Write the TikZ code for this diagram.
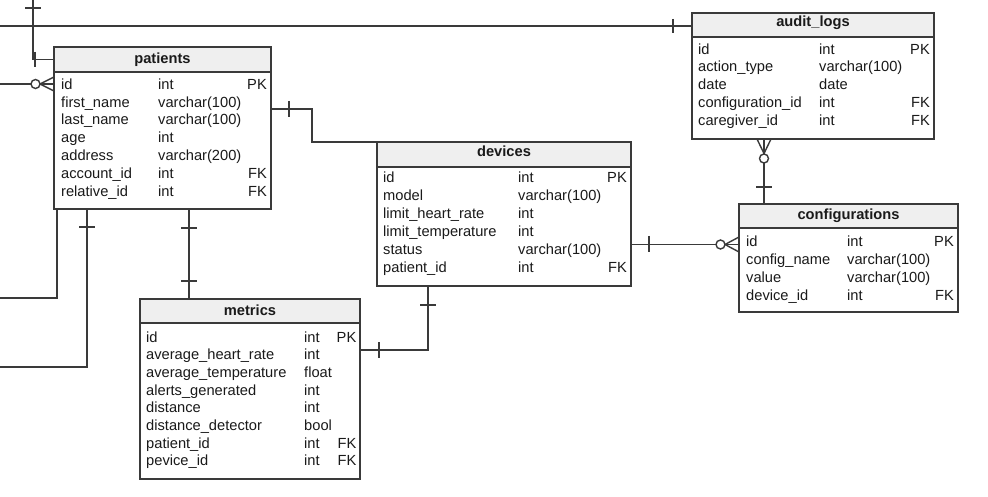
\documentclass[tikz,border=0pt]{standalone}
\usepackage{fontspec}
\setmainfont{Liberation Sans}
\usetikzlibrary{calc}
\definecolor{bordercol}{HTML}{3A3A3A}
\definecolor{linecol}{HTML}{3A3A3A}
\definecolor{hdrfill}{HTML}{EFEFEF}
\definecolor{txtcol}{HTML}{1A1A1A}
\begin{document}
\begin{tikzpicture}[x=1pt,y=-1pt,
  tbl/.style={draw=bordercol, line width=1.4pt, fill=white, anchor=north west, inner sep=0pt, outer sep=0pt},
  hdr/.style={draw=bordercol, line width=1.4pt, fill=hdrfill, anchor=north west, inner sep=0pt, outer sep=0pt},
  txt/.style={anchor=base west, inner sep=0pt, text=txtcol, font=\fontsize{14.67}{17}\selectfont},
  keytxt/.style={anchor=base east, inner sep=0pt, text=txtcol, font=\fontsize{14.67}{17}\selectfont},
  ttl/.style={anchor=base, inner sep=0pt, text=txtcol, font=\fontsize{14.67}{17}\selectfont\bfseries},
  rel/.style={draw=linecol, line width=1.4pt},
  bar/.style={draw=linecol, line width=1.4pt},
]
\useasboundingbox (0,0) rectangle (988,497);
\fill[white] (0,0) rectangle (988,497);

% ---------- patients ----------
\node[tbl, minimum width=217pt, minimum height=162pt] (patients) at (54,47) {};
\node[hdr, minimum width=217pt, minimum height=25pt] (patientsH) at (54,47) {};
\node[ttl] (patientsT) at (162.5,63.3) {patients};
\foreach \n/\t/\k [count=\i from 0] in {id/int/PK, first\_name/varchar(100)/, last\_name/varchar(100)/, age/int/, address/varchar(200)/, account\_id/int/FK, relative\_id/int/FK}{
  \node[txt] (patients-n\i) at (61,89.3+17.8*\i) {\n};
  \node[txt] (patients-t\i) at (158,89.3+17.8*\i) {\t};
  \node[keytxt] (patients-k\i) at (267,89.3+17.8*\i) {\k};
}

% ---------- devices ----------
\node[tbl, minimum width=254pt, minimum height=144pt] (devices) at (377,142) {};
\node[hdr, minimum width=254pt, minimum height=25pt] (devicesH) at (377,142) {};
\node[ttl] (devicesT) at (504,156.7) {devices};
\foreach \n/\t/\k [count=\i from 0] in {id/int/PK, model/varchar(100)/, limit\_heart\_rate/int/, limit\_temperature/int/, status/varchar(100)/, patient\_id/int/FK}{
  \node[txt] (devices-n\i) at (383,182.7+18*\i) {\n};
  \node[txt] (devices-t\i) at (518,182.7+18*\i) {\t};
  \node[keytxt] (devices-k\i) at (627,182.7+18*\i) {\k};
}

% ---------- metrics ----------
\node[tbl, minimum width=220pt, minimum height=180pt] (metrics) at (140,299) {};
\node[hdr, minimum width=220pt, minimum height=24pt] (metricsH) at (140,299) {};
\node[ttl] (metricsT) at (250,315) {metrics};
\foreach \n/\t/\k [count=\i from 0] in {id/int/PK, average\_heart\_rate/int/, average\_temperature/float/, alerts\_generated/int/, distance/int/, distance\_detector/bool/, patient\_id/int/FK, pevice\_id/int/FK}{
  \node[txt] (metrics-n\i) at (146,342.3+17.63*\i) {\n};
  \node[txt] (metrics-t\i) at (304,342.3+17.63*\i) {\t};
  \node[keytxt] (metrics-k\i) at (356.5,342.3+17.63*\i) {\k};
}

% ---------- audit_logs ----------
\node[tbl, minimum width=242pt, minimum height=126pt] (audit) at (692,13) {};
\node[hdr, minimum width=242pt, minimum height=24pt] (auditH) at (692,13) {};
\node[ttl] (auditT) at (813,26.7) {audit\_logs};
\foreach \n/\t/\k [count=\i from 0] in {id/int/PK, action\_type/varchar(100)/, date/date/, configuration\_id/int/FK, caregiver\_id/int/FK}{
  \node[txt] (audit-n\i) at (698,54.3+17.7*\i) {\n};
  \node[txt] (audit-t\i) at (819,54.3+17.7*\i) {\t};
  \node[keytxt] (audit-k\i) at (930,54.3+17.7*\i) {\k};
}

% ---------- configurations ----------
\node[tbl, minimum width=219pt, minimum height=108pt] (config) at (739,204) {};
\node[hdr, minimum width=219pt, minimum height=24pt] (configH) at (739,204) {};
\node[ttl] (configT) at (848.5,220) {configurations};
\foreach \n/\t/\k [count=\i from 0] in {id/int/PK, config\_name/varchar(100)/, value/varchar(100)/, device\_id/int/FK}{
  \node[txt] (config-n\i) at (746,246.7+17.8*\i) {\n};
  \node[txt] (config-t\i) at (847,246.7+17.8*\i) {\t};
  \node[keytxt] (config-k\i) at (954,246.7+17.8*\i) {\k};
}

% ---------- connectors ----------
% top long line to audit_logs
\coordinate (L1) at (0,26);
\draw[rel] (L1) -- (L1 -| audit.west);
\draw[bar] (673,19) -- (673,33);

% vertical from top into patients header
\coordinate (L2) at (33,0);
\draw[rel] (L2) |- (patientsH.west);
\draw[bar] (25,8) -- (41,8);
\draw[bar] (35,52) -- (35,67);

% zero-or-many into patients id
\coordinate (L3) at (0,84);
\draw[rel] (L3) -- (31,84);
\draw[rel] (35.5,84) circle (4.5);
\draw[rel] (40,84) -- (54,84);
\draw[rel] (40,84) -- (54,77);
\draw[rel] (40,84) -- (54,91);

% patients bottom to left edge
\coordinate (L4) at (0,298);
\draw[rel] ([xshift=3pt]patients.south west) |- (L4);
\coordinate (L5) at (0,367);
\draw[rel] ([xshift=33pt]patients.south west) |- (L5);
\draw[bar] (79,227) -- (95,227);

% patients -> metrics
\draw[rel] ([xshift=135pt]patients.south west) -- ([xshift=49pt]metrics.north west);
\draw[bar] (181,228) -- (197,228);
\draw[bar] (181,281) -- (197,281);

% patients -> devices
\draw[rel] (patients.east |- 0,109) -| (312,142) -- (devices.north west);
\draw[bar] (289,101) -- (289,117);

% devices -> metrics
\draw[rel] ([xshift=51pt]devices.south west) |- (metrics.east |- 0,350);
\draw[bar] (420,305) -- (436,305);
\draw[bar] (379,342) -- (379,358);

% devices -> configurations
\draw[rel] (devices.east |- 0,244.5) -- (716,244.5);
\draw[rel] (720.5,244.5) circle (4.5);
\draw[rel] (725,244.5) -- (config.west |- 0,244.5);
\draw[rel] (725,244.5) -- (739,237);
\draw[rel] (725,244.5) -- (739,252);
\draw[bar] (649,236) -- (649,252);

% audit_logs -> configurations
\draw[rel] (764,139) -- (764,154);
\draw[rel] (757,139) -- (764,153.5);
\draw[rel] (771,139) -- (764,153.5);
\draw[rel] (764,158.5) circle (4.5);
\draw[rel] (764,163) -- (config.north -| 764,0);
\draw[bar] (756,187) -- (772,187);
\end{tikzpicture}
\end{document}
